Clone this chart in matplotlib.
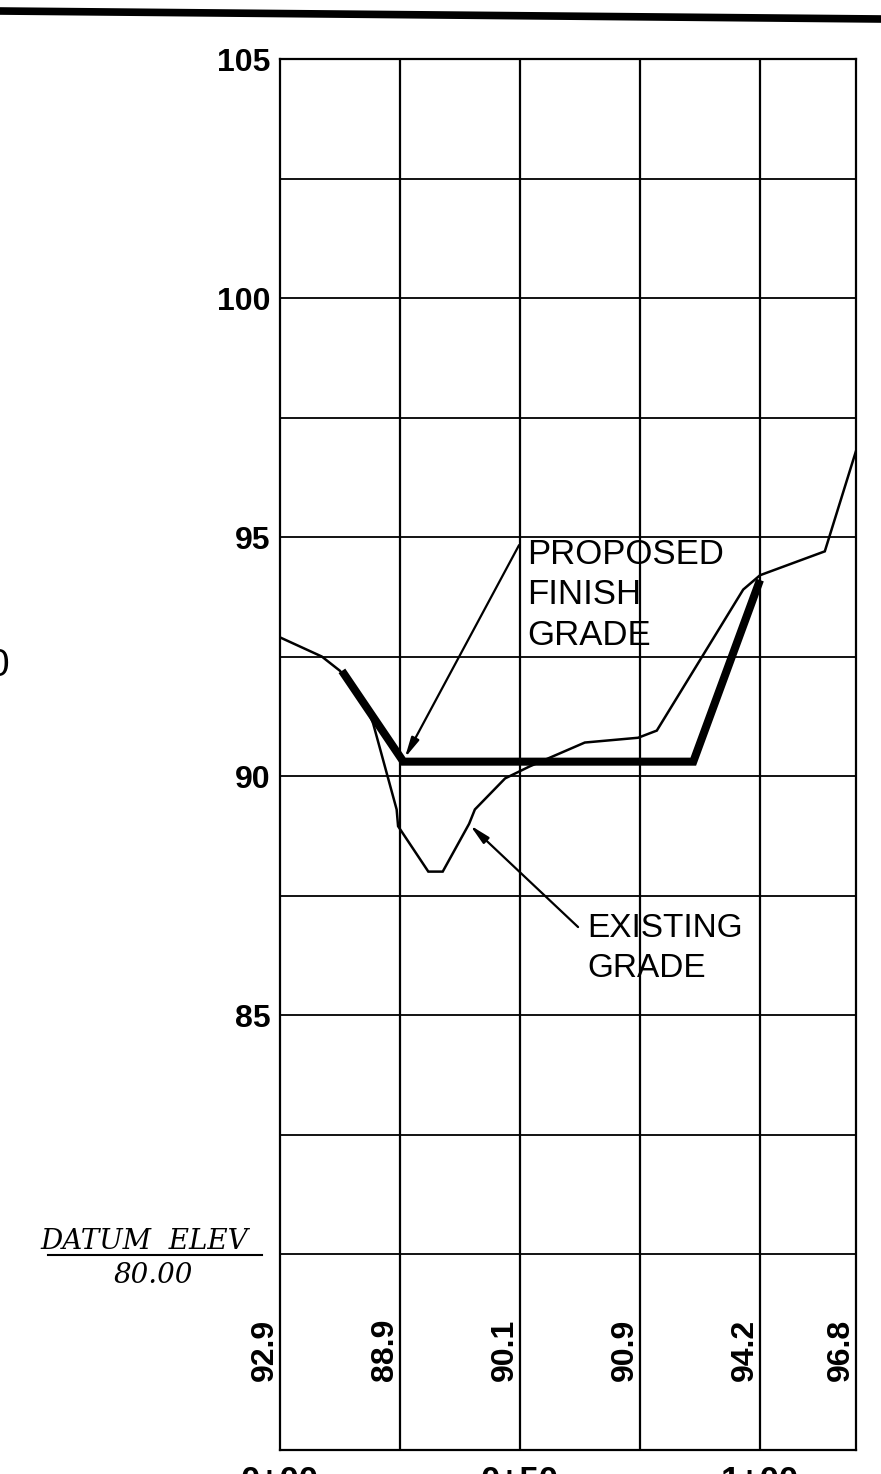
import matplotlib
matplotlib.use("Agg")
import matplotlib.pyplot as plt
from matplotlib.lines import Line2D

W, H = 881, 1474

# ---- data ----
existing_sta = [0, 8.7, 12.5, 18, 19.4, 24.3, 24.6, 30.9, 33.9, 39.4, 40.6, 46.9,
                52, 63.5, 74.6, 78.5, 96.5, 100, 113.5, 120]
existing_elev = [92.9, 92.5, 92.2, 91.45, 91.1, 89.3, 88.95, 88.0, 88.0, 89.0, 89.3, 89.95,
                 90.2, 90.7, 90.8, 90.95, 93.9, 94.2, 94.7, 96.8]
proposed_sta = [12.9, 25.7, 86.1, 100]
proposed_elev = [92.2, 90.3, 90.3, 94.1]

label_sta = [0, 25, 50, 75, 100, 120]
label_elev = ["92.9", "88.9", "90.1", "90.9", "94.2", "96.8"]
station_pos = [0, 50, 100]
station_txt = ["0+00", "0+50", "1+00"]
ytick_vals = [85, 90, 95, 100, 105]
hgrid_vals = [80, 82.5, 85, 87.5, 90, 92.5, 95, 97.5, 100, 102.5]
vgrid_vals = [25, 50, 75, 100]

fig = plt.figure(figsize=(W / 100, H / 100), dpi=100)
fig.patch.set_facecolor("white")

def fx(px):
    return px / W

def fy(py):
    return 1 - py / H

ax_l, ax_r, ax_t, ax_b = 280, 856, 59, 1450
ax = fig.add_axes([fx(ax_l), fy(ax_b), (ax_r - ax_l) / W, (ax_b - ax_t) / H])
ax.set_xlim(0, 120)
ax.set_ylim(80 - (ax_b - 1254) / 47.8, 105)

for s in ax.spines.values():
    s.set_linewidth(1.6)
    s.set_color("black")

ax.hlines(hgrid_vals, 0, 120, colors="black", linewidth=1.3, zorder=1)
ax.vlines(vgrid_vals, ax.get_ylim()[0], 105, colors="black", linewidth=1.6, zorder=1)

ax.set_xticks([])
ax.set_yticks(ytick_vals)
ax.set_yticklabels([str(v) for v in ytick_vals], fontsize=23, fontweight="bold",
                   family="Liberation Sans")
ax.tick_params(axis="y", length=0, pad=7)

# profiles
ax.plot(existing_sta, existing_elev, color="black", linewidth=1.8, zorder=3,
        solid_joinstyle="miter")
ax.plot(proposed_sta, proposed_elev, color="black", linewidth=5.8, zorder=4,
        solid_capstyle="butt", solid_joinstyle="miter")

# elevation labels in table
for s, t in zip(label_sta, label_elev):
    ax.text(s - 3.1, 78.0, t, rotation=90, ha="center", va="center",
            fontsize=23, fontweight="bold", family="Liberation Sans")

# station labels (cut off at bottom edge, as in the original sheet)
for s, t in zip(station_pos, station_txt):
    ax.text(s, 80 - (1465 - 1254) / 47.8, t, ha="center", va="top",
            fontsize=25, fontweight="bold", family="Liberation Sans", clip_on=False)

# annotations
arrow_kw = dict(arrowstyle="-|>,head_length=1.2,head_width=0.25", color="black",
                lw=1.6, shrinkA=0, shrinkB=0)
ax.annotate("", xy=(26.0, 90.38), xytext=(49.8, 94.83), arrowprops=arrow_kw, zorder=5)
ax.text(51.5, 94.98, "PROPOSED\nFINISH\nGRADE", ha="left", va="top", fontsize=25,
        family="Liberation Sans", linespacing=1.28, zorder=5)
ax.annotate("", xy=(39.6, 88.97), xytext=(62.1, 86.84), arrowprops=arrow_kw, zorder=5)
ax.text(64.0, 87.13, "EXISTING\nGRADE", ha="left", va="top", fontsize=24,
        family="Liberation Sans", linespacing=1.35, zorder=5)

# datum label
fig.text(fx(248), fy(1249), "DATUM  ELEV", ha="right", va="baseline",
         fontsize=20, style="italic", family="DejaVu Serif")
fig.add_artist(Line2D([fx(48), fx(262)], [fy(1255), fy(1255)], color="black",
                      linewidth=1.5))
fig.text(fx(193), fy(1262), "80.00", ha="right", va="top",
         fontsize=20, style="italic", family="DejaVu Serif")

# partial character at the left edge
fig.text(fx(9), fy(666), "0", ha="right", va="center", fontsize=28,
         family="Liberation Sans")

# heavy border line at top
fig.add_artist(Line2D([0, 1], [fy(11), fy(19)], color="black", linewidth=5.5))

fig.savefig("out.png", dpi=100, facecolor="white")
